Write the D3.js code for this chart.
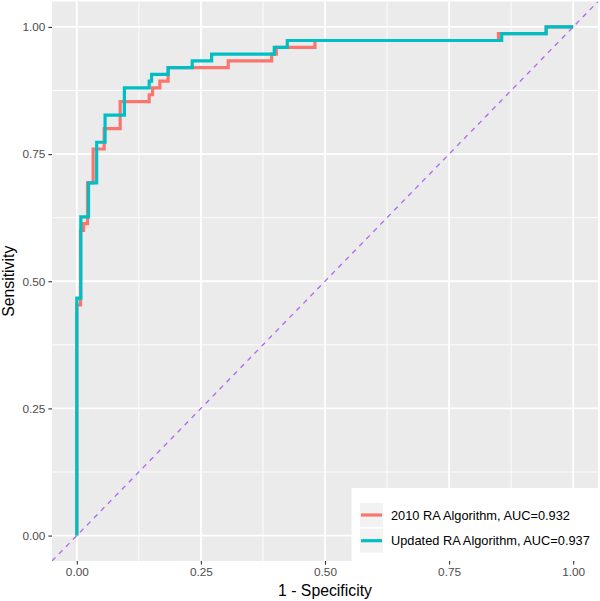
<!DOCTYPE html>
<html>
<head>
<meta charset="utf-8">
<script src="https://cdn.jsdelivr.net/npm/d3@7"></script>
<style>
  html, body { margin: 0; padding: 0; background: #ffffff; }
  svg { display: block; font-family: "Liberation Sans", Arial, sans-serif; }
</style>
</head>
<body>
<svg id="chart" width="600" height="601"></svg>
<script>
// ---- data (ROC step points: x where sensitivity rises, sensitivity after rise) ----
const seriesNames = ["2010 RA Algorithm, AUC=0.932", "Updated RA Algorithm, AUC=0.937"];
const seriesColors = ["#F8766D", "#00BFC4"];

const fpr2010 = [0, 0, 0.0075, 0.0135, 0.0216, 0.0329, 0.0551, 0.0873, 0.1458, 0.1526, 0.1673, 0.184, 0.305, 0.3925, 0.402, 0.4798, 0.8494, 0.9456, 1];
const tpr2010 = [0, 0.4533, 0.60, 0.6133, 0.6933, 0.76, 0.80, 0.8533, 0.8667, 0.88, 0.8933, 0.92, 0.9333, 0.9467, 0.96, 0.9733, 0.9867, 1, 1];

const fprUpd = [0, 0, 0.0081, 0.0236, 0.040, 0.0569, 0.0958, 0.1458, 0.1506, 0.184, 0.2325, 0.2716, 0.3978, 0.424, 0.856, 0.9456, 1];
const tprUpd = [0, 0.4667, 0.6267, 0.6933, 0.7733, 0.8267, 0.88, 0.8933, 0.9067, 0.92, 0.9333, 0.9467, 0.96, 0.9733, 0.9867, 1, 1];

const majorTicks = [0, 0.25, 0.5, 0.75, 1];
const minorTicks = [0.125, 0.375, 0.625, 0.875];
const tickLabels = ["0.00", "0.25", "0.50", "0.75", "1.00"];
const xTitle = "1 - Specificity";
const yTitle = "Sensitivity";

// ---- layout ----
const svg = d3.select("#chart");
const panel = { left: 52, right: 598, top: 1.5, bottom: 561 };
const x = d3.scaleLinear().domain([-0.05, 1.05]).range([panel.left, panel.right]);
const y = d3.scaleLinear().domain([-0.05, 1.05]).range([panel.bottom, panel.top]);

svg.append("rect")
  .attr("x", panel.left).attr("y", panel.top)
  .attr("width", panel.right - panel.left).attr("height", panel.bottom - panel.top)
  .attr("fill", "#EBEBEB");

const grid = svg.append("g");
minorTicks.forEach(t => {
  grid.append("line").attr("x1", x(t)).attr("x2", x(t)).attr("y1", panel.top).attr("y2", panel.bottom)
    .attr("stroke", "#fff").attr("stroke-width", 0.9);
  grid.append("line").attr("y1", y(t)).attr("y2", y(t)).attr("x1", panel.left).attr("x2", panel.right)
    .attr("stroke", "#fff").attr("stroke-width", 0.9);
});
majorTicks.forEach(t => {
  grid.append("line").attr("x1", x(t)).attr("x2", x(t)).attr("y1", panel.top).attr("y2", panel.bottom)
    .attr("stroke", "#fff").attr("stroke-width", 1.8);
  grid.append("line").attr("y1", y(t)).attr("y2", y(t)).attr("x1", panel.left).attr("x2", panel.right)
    .attr("stroke", "#fff").attr("stroke-width", 1.8);
});

// clip for panel
svg.append("clipPath").attr("id", "clip").append("rect")
  .attr("x", panel.left).attr("y", panel.top)
  .attr("width", panel.right - panel.left).attr("height", panel.bottom - panel.top);

const plot = svg.append("g").attr("clip-path", "url(#clip)");

// diagonal reference line
plot.append("line")
  .attr("x1", x(-0.05)).attr("y1", y(-0.05)).attr("x2", x(1.05)).attr("y2", y(1.05))
  .attr("stroke", "#AD66F5").attr("stroke-width", 1.3).attr("stroke-dasharray", "5,5");

const line = d3.line().x(d => x(d[0])).y(d => y(d[1])).curve(d3.curveStepAfter);
const series = [
  d3.zip(fpr2010, tpr2010),
  d3.zip(fprUpd, tprUpd)
];
series.forEach((pts, i) => {
  plot.append("path").datum(pts)
    .attr("d", line)
    .attr("fill", "none")
    .attr("stroke", seriesColors[i])
    .attr("stroke-width", 3.2)
    .attr("stroke-linejoin", "miter")
    .attr("stroke-linecap", "butt");
});

// axes
const xAxis = d3.axisBottom(x).tickValues(majorTicks).tickFormat((d, i) => tickLabels[i]).tickSize(3.6).tickPadding(3);
const yAxis = d3.axisLeft(y).tickValues(majorTicks).tickFormat((d, i) => tickLabels[i]).tickSize(3.6).tickPadding(3);

const gx = svg.append("g").attr("transform", `translate(0,${panel.bottom})`).call(xAxis);
const gy = svg.append("g").attr("transform", `translate(${panel.left},0)`).call(yAxis);
[gx, gy].forEach(g => {
  g.select(".domain").remove();
  g.selectAll(".tick line").attr("stroke", "#333333").attr("stroke-width", 1.1);
  g.selectAll(".tick text").attr("fill", "#4D4D4D").style("font-size", "11.8px")
    .style("font-family", "'Liberation Sans', Arial, sans-serif");
});

svg.append("text").text(xTitle)
  .attr("x", x(0.5)).attr("y", 596)
  .attr("text-anchor", "middle").attr("fill", "#000")
  .style("font-size", "15.8px");

svg.append("text").text(yTitle)
  .attr("transform", `translate(14,${(panel.top + panel.bottom) / 2}) rotate(-90)`)
  .attr("text-anchor", "middle").attr("fill", "#000")
  .style("font-size", "15.8px");

// legend
const lg = svg.append("g");
lg.append("rect").attr("x", 351.5).attr("y", 488).attr("width", 247).attr("height", 73).attr("fill", "#fff");
seriesNames.forEach((name, i) => {
  const ky = 503 + i * 25.7;
  lg.append("rect").attr("x", 360).attr("y", ky).attr("width", 23).attr("height", 24).attr("fill", "#F2F2F2");
  lg.append("line").attr("x1", 361).attr("x2", 382).attr("y1", ky + 12).attr("y2", ky + 12)
    .attr("stroke", seriesColors[i]).attr("stroke-width", 3.2);
  lg.append("text").text(name).attr("x", 391).attr("y", ky + 16.5)
    .attr("fill", "#000").style("font-size", "12.8px");
});
</script>
</body>
</html>
